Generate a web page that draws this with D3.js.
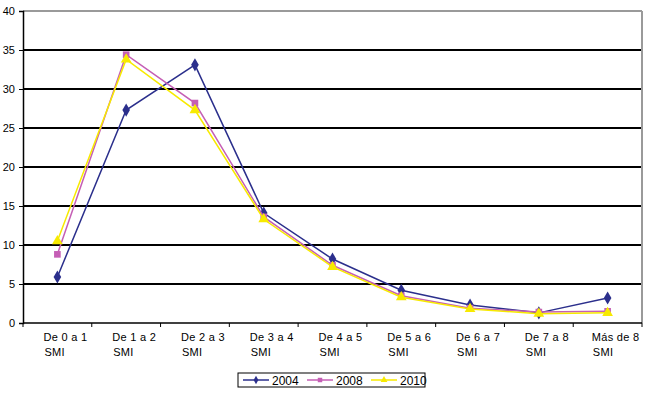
<!DOCTYPE html>
<html>
<head>
<meta charset="utf-8">
<script src="https://cdn.jsdelivr.net/npm/d3@7"></script>
<style>
  body { margin: 0; background: #fff; }
  text { font-family: "Liberation Sans", Arial, sans-serif; fill: #000; }
</style>
</head>
<body>
<svg id="chart" width="650" height="395"></svg>
<script>
const categories = ["De 0 a 1|SMI", "De 1 a 2|SMI", "De 2 a 3|SMI", "De 3 a 4|SMI", "De 4 a 5|SMI",
                    "De 5 a 6|SMI", "De 6 a 7|SMI", "De 7 a 8|SMI", "Más de 8|SMI"];
const values2004 = [5.9, 27.3, 33.1, 14.1, 8.2, 4.2, 2.3, 1.3, 3.2];
const values2008 = [8.8, 34.4, 28.2, 13.6, 7.4, 3.5, 1.9, 1.4, 1.5];
const values2010 = [10.5, 33.8, 27.3, 13.3, 7.2, 3.3, 1.8, 1.2, 1.3];
const yTicks = [0, 5, 10, 15, 20, 25, 30, 35, 40];

const series = [
    { name: "2004", values: values2004, color: "#2b2f8c", symbol: d3.symbolDiamond, size: 50 },
    { name: "2008", values: values2008, color: "#c55fb5", symbol: d3.symbolSquare, size: 44 },
    { name: "2010", values: values2010, color: "#f7ea00", symbol: d3.symbolTriangle, size: 50 }
];

const margin = { top: 11, right: 8, bottom: 72, left: 23 };
const width = 650, height = 395;
const plotW = width - margin.left - margin.right;
const plotH = height - margin.top - margin.bottom;

const svg = d3.select("#chart");
const g = svg.append("g").attr("transform", `translate(${margin.left},${margin.top})`);

const x = d3.scaleBand().domain(categories).range([0, plotW]);
const y = d3.scaleLinear().domain([0, 40]).range([plotH, 0]);

// gridlines
g.selectAll(".grid").data(yTicks.filter(t => t > 0 && t < 40)).enter().append("line")
    .attr("x1", 0).attr("x2", plotW)
    .attr("y1", d => y(d)).attr("y2", d => y(d))
    .attr("stroke", "#000").attr("stroke-width", 2);

// plot border top / right (gray)
g.append("line").attr("x1", 0).attr("x2", plotW).attr("y1", y(40)).attr("y2", y(40))
    .attr("stroke", "#9a9a9a").attr("stroke-width", 2);
g.append("line").attr("x1", plotW).attr("x2", plotW).attr("y1", 0).attr("y2", plotH)
    .attr("stroke", "#9a9a9a").attr("stroke-width", 2);

// y axis
const yAxis = g.append("g")
    .call(d3.axisLeft(y).tickValues(yTicks).tickSize(4).tickPadding(4));
yAxis.select(".domain").attr("stroke", "#000").attr("stroke-width", 1.5);
yAxis.selectAll("text").style("font-size", "11px");

// x axis
const xAxis = g.append("g").attr("transform", `translate(0,${plotH})`);
xAxis.append("line").attr("x1", 0).attr("x2", plotW).attr("y1", 0).attr("y2", 0)
    .attr("stroke", "#000").attr("stroke-width", 1.5);
xAxis.selectAll(".xtick").data(d3.range(categories.length + 1)).enter().append("line")
    .attr("x1", i => i * x.bandwidth()).attr("x2", i => i * x.bandwidth())
    .attr("y1", 0).attr("y2", 4).attr("stroke", "#000");

categories.forEach(c => {
    const lines = c.split("|");
    const cx = x(c) + x.bandwidth() / 2 + 8;
    const t1 = xAxis.append("text").attr("y", 18).style("font-size", "11px")
        .style("letter-spacing", "0.3px")
        .attr("text-anchor", "start").text(lines[0]);
    const w = t1.node().getComputedTextLength();
    t1.attr("x", cx - w / 2);
    xAxis.append("text").attr("x", cx - w / 2 + 1).attr("y", 33).style("font-size", "11px")
        .style("letter-spacing", "0.3px")
        .attr("text-anchor", "start").text(lines[1]);
});

// lines and markers
const line = d3.line()
    .x((d, i) => x(categories[i]) + x.bandwidth() / 2)
    .y(d => y(d));

series.forEach(s => {
    g.append("path").datum(s.values)
        .attr("fill", "none").attr("stroke", s.color).attr("stroke-width", 1.5)
        .attr("d", line);
    g.selectAll(null).data(s.values).enter().append("path")
        .attr("d", d3.symbol().type(s.symbol).size(s.size))
        .attr("transform", (d, i) => `translate(${x(categories[i]) + x.bandwidth() / 2},${y(d)})`)
        .attr("fill", s.color);
});

// legend
const legend = svg.append("g").attr("transform", "translate(238,373)");
legend.append("rect").attr("width", 187).attr("height", 14)
    .attr("fill", "#fff").attr("stroke", "#000").attr("stroke-width", 1);
series.forEach((s, i) => {
    const lx = 5 + i * 64;
    legend.append("line").attr("x1", lx).attr("x2", lx + 26).attr("y1", 7).attr("y2", 7)
        .attr("stroke", s.color).attr("stroke-width", 1.5);
    legend.append("path").attr("d", d3.symbol().type(s.symbol).size(20))
        .attr("transform", `translate(${lx + 13},7)`).attr("fill", s.color);
    legend.append("text").attr("x", lx + 29).attr("y", 11.5).style("font-size", "12px").text(s.name);
});
</script>
</body>
</html>
